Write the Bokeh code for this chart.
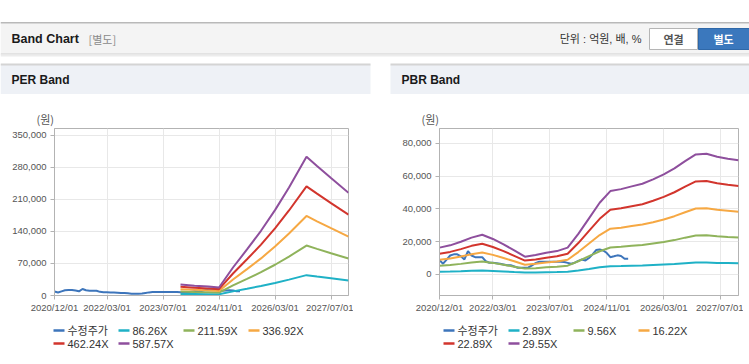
import pandas as pd
from bokeh.plotting import figure
from bokeh.layouts import column, row
from bokeh.models import Range1d, FixedTicker, NumeralTickFormatter, Spacer
from bokeh.core.properties import value
from bokeh.embed import file_html
from bokeh.resources import INLINE

FONT = "Liberation Sans, Noto Sans CJK KR, sans-serif"
KFONT = "Noto Sans CJK KR"

# ---------------- data ----------------
price_dates = pd.date_range("2020-12-01", periods=54, freq="MS")
price = [8700, 6500, 9000, 11500, 12200, 12200, 11000, 9100, 14200, 11500,
         10500, 10500, 10500, 8000, 7100, 7100, 6800, 6500, 6000, 5500,
         5600, 4800, 4000, 4000, 4000, 4200, 5500, 6800, 7700, 7700,
         7700, 7700, 7700, 7700, 7700, 7500, 7000, 6500, 7100, 8200,
         9100, 8500, 10000, 12200, 14800, 15200, 14600, 13000, 10500, 11000,
         11600, 11200, 9500, 9500]

per_dates = ["2023-12-01", "2024-04-01", "2024-08-01", "2024-11-01", "2025-03-01",
             "2025-07-01", "2025-11-01", "2026-03-01", "2026-07-01", "2026-12-01",
             "2027-03-01", "2027-07-01", "2027-12-01"]
per_labels = ["86.26X", "211.59X", "336.92X", "462.24X", "587.57X"]
per_b1 = [3500, 3200, 2900, 2600, 9000, 14800, 20800, 27400, 34700, 44500, 41500, 37700, 33000]
per_b2 = [8600, 7700, 7000, 6300, 22000, 36200, 50900, 67200, 85100, 109200, 101900, 92400, 80800]
per_b3 = [13800, 12300, 11200, 10000, 35100, 57700, 81100, 107000, 135400, 173900, 162200, 147100, 128700]
per_b4 = [18900, 16900, 15300, 13800, 48100, 79100, 111200, 146800, 185800, 238600, 222600, 201900, 176600]
per_b5 = [24000, 21500, 19500, 17500, 61200, 100600, 141400, 186600, 236200, 303300, 282900, 256600, 224500]

pbr_dates = pd.date_range("2020-12-01", "2027-12-01", freq="3MS")
pbr_labels = ["2.89X", "9.56X", "16.22X", "22.89X", "29.55X"]
pbr_b1 = [1600, 1700, 1900, 2200, 2400, 2100, 1800, 1400, 1100, 1200, 1300, 1400, 1600, 2400, 3300,
          4300, 5000, 5100, 5300, 5400, 5700, 6000, 6300, 6800, 7200, 7200, 7000, 6900, 6800]
pbr_b2 = [5300, 5700, 6400, 7200, 7800, 7000, 5900, 4700, 3500, 3800, 4300, 4600, 5300, 8000, 11100,
          14100, 16400, 16800, 17400, 17900, 18800, 19700, 20900, 22400, 23700, 23800, 23200, 22800, 22500]
pbr_b3 = [8900, 9700, 10900, 12300, 13300, 11900, 10000, 8000, 5900, 6500, 7200, 7800, 8900, 13600, 18800,
          24000, 27900, 28500, 29500, 30400, 31800, 33500, 35500, 37900, 40200, 40400, 39400, 38800, 38200]
pbr_b4 = [12600, 13700, 15400, 17400, 18700, 16700, 14200, 11300, 8400, 9100, 10200, 11000, 12600, 19100, 26500,
          33900, 39400, 40300, 41600, 42800, 44900, 47300, 50100, 53500, 56700, 57000, 55600, 54700, 53900]
pbr_b5 = [16300, 17700, 19900, 22400, 24200, 21600, 18300, 14600, 10800, 11800, 13200, 14200, 16300, 24700, 34200,
          43700, 50800, 52000, 53700, 55300, 58000, 61000, 64700, 69100, 73200, 73600, 71800, 70600, 69600]

x_tick_dates = ["2020-12-01", "2022-03-01", "2023-07-01", "2024-11-01", "2026-03-01", "2027-07-01"]
x_start, x_end = "2020-12-01", "2027-12-01"
per_y_ticks = [0, 70000, 140000, 210000, 280000, 350000]
pbr_y_ticks = [0, 20000, 40000, 60000, 80000]

price_label = "수정주가"
colors = ["#3d75bb", "#1fb1c6", "#8fb35b", "#f6a843", "#d2352d", "#8e4f9d"]


def mpos(d):
    """position on the time axis, in months since the axis origin"""
    t, t0 = pd.Timestamp(d), pd.Timestamp(x_start)
    return (t.year - t0.year) * 12 + (t.month - t0.month) + (t.day - 1) / 30.0


W = 749


def deco(height, y0):
    p = figure(width=W, height=height, x_range=Range1d(0, W), y_range=Range1d(y0 + height, y0),
               output_backend="svg", toolbar_location=None, x_axis_location=None,
               y_axis_location=None, min_border=0, outline_line_color=None,
               border_fill_color="white", background_fill_color="white")
    p.grid.visible = False
    return p


# ---------------- header strip (page header + panel headers) ----------------
hdr = deco(94, 0)
hdr.quad(left=[0], right=[W], top=[22], bottom=[53], fill_color="#f4f4f4", line_color=None)
hdr.quad(left=[0], right=[W], top=[21.5], bottom=[23], fill_color="#b9b9b9", line_color=None)
hdr.quad(left=[0], right=[W], top=[53], bottom=[54], fill_color="#cccccc", line_color=None)
hdr.quad(left=[0], right=[W], top=[54], bottom=[56], fill_color="#ececec", line_color=None)
hdr.text(x=[11], y=[38], text=["Band Chart"], text_font=value(FONT), text_font_size="12.5px",
         text_font_style="bold", text_color="#1a1a1a", text_baseline="middle")
hdr.text(x=[88], y=[38], text=["[별도]"], text_font=value(KFONT), text_font_size="11px",
         text_color="#8a8a8a", text_baseline="middle")
hdr.text(x=[641], y=[38], text=["단위 : 억원, 배, %"], text_font=value(FONT), text_font_size="11px",
         text_color="#333333", text_baseline="middle", text_align="right")
hdr.quad(left=[649], right=[697], top=[28], bottom=[49], fill_color="white", line_color="#b5b5b5")
hdr.text(x=[673], y=[38.5], text=["연결"], text_font=value(KFONT), text_font_size="11px",
         text_font_style="bold", text_color="#555555", text_baseline="middle", text_align="center")
hdr.quad(left=[698], right=[W], top=[28], bottom=[49], fill_color="#3b78bd", line_color="#2f68a8")
hdr.text(x=[723], y=[38.5], text=["별도"], text_font=value(KFONT), text_font_size="11px",
         text_font_style="bold", text_color="white", text_baseline="middle", text_align="center")
for x0, x1, lab in [(0, 370, "PER Band"), (390, W, "PBR Band")]:
    hdr.quad(left=[x0], right=[x1], top=[64], bottom=[94], fill_color="#eef1f6", line_color=None)
    hdr.quad(left=[x0], right=[x1], top=[63], bottom=[65], fill_color="#d4d4d4", line_color=None)
    hdr.text(x=[x0 + 11], y=[79], text=[lab], text_font=value(FONT), text_font_size="12px",
             text_font_style="bold", text_color="#1a1a1a", text_baseline="middle")


def chart(min_left, y0, y1, yticks, dates_b, bands):
    p = figure(width=353, height=224,
               x_range=Range1d(mpos(x_start), mpos(x_end)), y_range=Range1d(y0, y1),
               output_backend="svg", toolbar_location=None, title="(원)",
               min_border_left=min_left, min_border_top=34, min_border_bottom=23,
               outline_line_color="#b3b3b3")
    p.title.align = "left"
    p.title.offset = -18
    p.title.standoff = 4
    p.title.text_font = KFONT
    p.title.text_font_size = "11px"
    p.title.text_font_style = "normal"
    p.title.text_color = "#555555"

    xt = [mpos(d) for d in x_tick_dates]
    p.xaxis.ticker = FixedTicker(ticks=xt)
    p.xaxis.major_label_overrides = {t: d.replace("-", "/") for t, d in zip(xt, x_tick_dates)}
    p.yaxis.ticker = FixedTicker(ticks=yticks)
    p.yaxis.formatter = NumeralTickFormatter(format="0,0")
    for ax in (p.xaxis, p.yaxis):
        ax.axis_line_color = "#b3b3b3"
        ax.major_tick_line_color = "#b3b3b3"
        ax.major_tick_out = 4
        ax.major_tick_in = 0
        ax.minor_tick_line_color = None
        ax.major_label_text_font = FONT
        ax.major_label_text_font_size = "9.5px"
        ax.major_label_text_color = "#555555"
    p.xaxis.major_label_standoff = 2
    p.yaxis.major_label_standoff = 4
    p.grid.grid_line_color = "#e8e8e8"

    p.line([mpos(d) for d in price_dates], price, line_color=colors[0], line_width=2)
    bx = [mpos(d) for d in dates_b]
    for i, b in enumerate(bands):
        p.line(bx, b, line_color=colors[i + 1], line_width=2)
    return p


lc = chart(54, 0, 365000, per_y_ticks, per_dates, [per_b1, per_b2, per_b3, per_b4, per_b5])
rc = chart(49, -12900, 89000, pbr_y_ticks, pbr_dates, [pbr_b1, pbr_b2, pbr_b3, pbr_b4, pbr_b5])

# ---------------- legends (drawn below each chart) ----------------
legf = deco(46, 318)
gx0, gx1, gy, tx, tt, tc = [], [], [], [], [], []
for x0, labs in [(53, [price_label] + per_labels), (443, [price_label] + pbr_labels)]:
    for i, lab in enumerate(labs):
        x = x0 + (i % 4) * 65
        y = 330 + (i // 4) * 13
        gx0.append(x)
        gx1.append(x + 11)
        gy.append(y)
        tx.append(x + 14)
        tt.append(lab)
        tc.append(colors[i])
legf.segment(x0=gx0, y0=gy, x1=gx1, y1=gy, line_color=tc, line_width=2.5)
legf.text(x=tx, y=gy, text=tt, text_font=value(FONT), text_font_size="11px",
          text_color="#333333", text_baseline="middle")

layout = column(hdr, row(lc, Spacer(width=37, height=224), rc), legf)

open("out.html", "w").write(file_html(layout, INLINE))
